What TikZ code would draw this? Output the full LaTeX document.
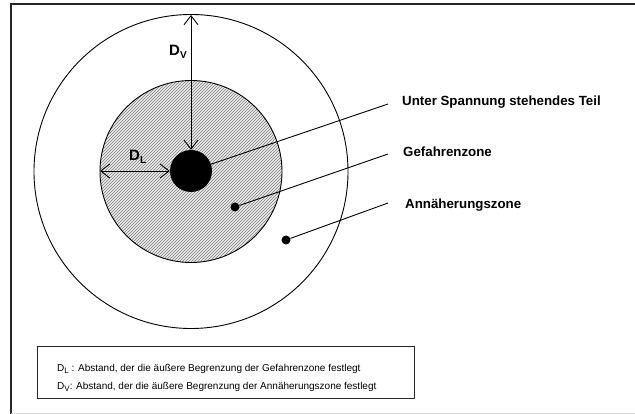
\documentclass[tikz,border=0pt]{standalone}
\usepackage{fontspec}
\setmainfont{Liberation Sans}
\usetikzlibrary{arrows.meta,patterns}
\newcommand{\lsub}[1]{\raisebox{-0.55ex}{\fontsize{8pt}{9pt}\selectfont #1}}
\newcommand{\bsub}[1]{\raisebox{-0.4ex}{\fontsize{10pt}{11pt}\selectfont\bfseries #1}}
\tikzset{
  thin line/.style={line width=0.9pt, black},
  lbl/.style={anchor=west, inner sep=0pt, font=\fontsize{13.3pt}{15pt}\selectfont\bfseries},
  dimlbl/.style={inner sep=0pt, font=\fontsize{15pt}{17pt}\selectfont\bfseries},
  dimarrow/.style={thin line, {Straight Barb[length=9pt,width=14pt,line width=0.9pt]}-{Straight Barb[length=9pt,width=14pt,line width=0.9pt]}},
  legend/.style={anchor=west, inner sep=0pt, font=\fontsize{10pt}{12pt}\selectfont},
  dot/.style={circle, fill=black, inner sep=0pt, minimum size=9pt}
}
\begin{document}
\begin{tikzpicture}[x=1pt,y=-1pt]
\useasboundingbox (0,0) rectangle (635,414);
% frame
\draw[line width=1.3pt, black!85] (11,414) -- (11,4) -- (635,4);
\draw[line width=1pt, black!15] (11,413) -- (635,413);
% outer circle
\draw[thin line] (191,171.5) circle[radius=157];
% inner hatched circle
\fill[black!8] (191,171.5) circle[radius=91];
\fill[pattern=north east lines, pattern color=black!50] (191,171.5) circle[radius=91];
\draw[thin line] (191,171.5) circle[radius=91];
% core
\node[circle, fill=black, inner sep=0pt, minimum size=42pt] (core) at (191,171) {};
\node[dot] (dot1) at (235,207) {};
\node[dot] (dot2) at (286,240) {};
% dimension arrows
\coordinate (otop) at (191,15);
\coordinate (ileft) at (100,171);
\draw[dimarrow] (otop) -- (core.north);
\draw[dimarrow] (ileft) -- (core.west);
\node[dimlbl, anchor=south west] (dv) at (169,59) {D\bsub{V}};
\node[dimlbl, anchor=south west] (dl) at (129,164) {D\bsub{L}};
% leader lines
\coordinate (e1) at (388,104);
\coordinate (e2) at (388,154);
\coordinate (e3) at (388,203);
\draw[thin line] (core) -- (e1);
\draw[thin line] (dot1) -- (e2);
\draw[thin line] (dot2) -- (e3);
\node[lbl] (t1) at (402,102) {Unter Spannung stehendes Teil};
\node[lbl] (t2) at (403,152) {Gefahrenzone};
\node[lbl] (t3) at (405,205) {Annäherungszone};
% legend
\node[draw=black!85, line width=1pt, minimum width=377pt, minimum height=52pt, anchor=north west, inner sep=0pt] (leg) at (37,346) {};
\node[legend, anchor=base west] (l1) at (57,371) {D\lsub{L} : Abstand, der die äußere Begrenzung der Gefahrenzone festlegt};
\node[legend, anchor=base west] (l2) at (57,389) {D\lsub{V}: Abstand, der die äußere Begrenzung der Annäherungszone festlegt};
\end{tikzpicture}
\end{document}
